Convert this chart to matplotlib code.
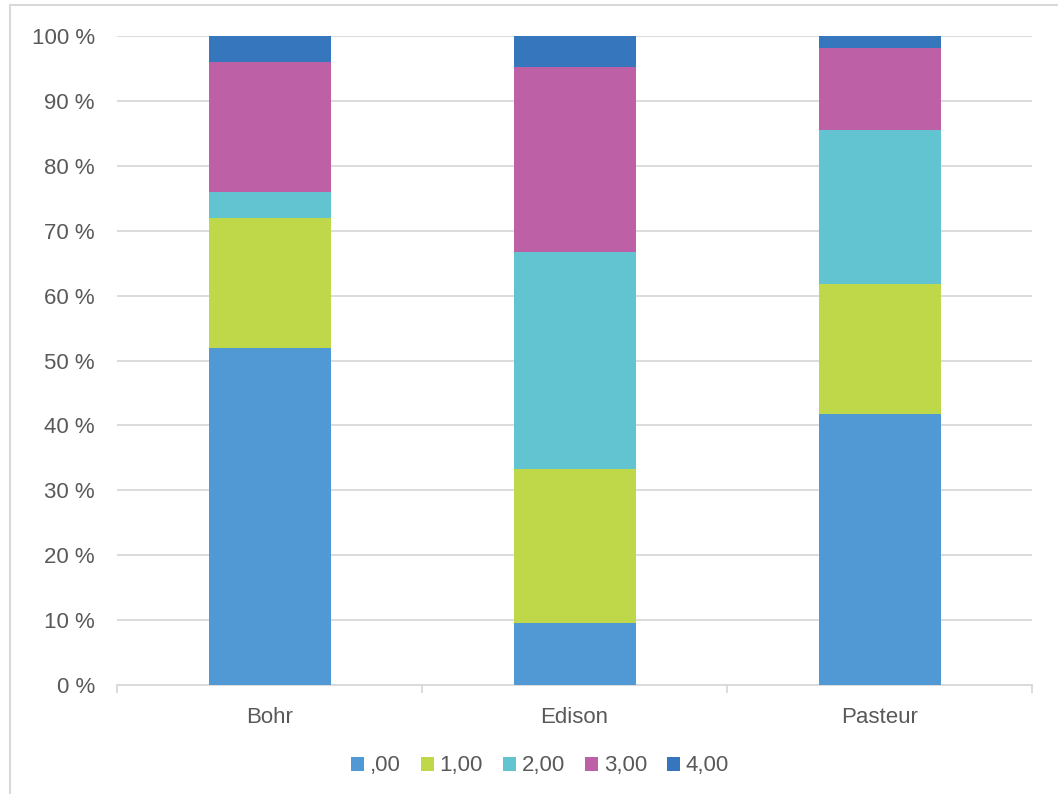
import matplotlib.pyplot as plt
from matplotlib.patches import Rectangle
import numpy as np

plt.rcParams['font.family'] = ['Liberation Sans', 'DejaVu Sans']

# respondent counts per answer code, one list per school
schools = ["Bohr", "Edison", "Pasteur"]
codes = [",00", "1,00", "2,00", "3,00", "4,00"]
counts_00 = [13, 2, 23]
counts_10 = [5, 5, 11]
counts_20 = [1, 7, 13]
counts_30 = [5, 6, 7]
counts_40 = [1, 1, 1]
colors = ["#5199D5", "#BFD849", "#62C3D1", "#BD60A5", "#3676BD"]

series = np.array([counts_00, counts_10, counts_20, counts_30, counts_40], dtype=float)
shares = series / series.sum(axis=0) * 100

text_col = "#595959"
grid_col = "#D9D9D9"

fig = plt.figure(figsize=(10.58, 7.94), dpi=100)
# outer chart frame
fig.patches.append(Rectangle((10 / 1058, -0.1), 1.2, 1.1 - 5 / 794, transform=fig.transFigure,
                             fill=False, edgecolor=grid_col, linewidth=1.5))
ax = fig.add_axes([117 / 1058, 1 - 685 / 794, 915 / 1058, 649 / 794])

x = np.arange(len(schools))
bottom = np.zeros(len(schools))
for i in range(len(codes)):
    ax.bar(x, shares[i], width=0.4, bottom=bottom, color=colors[i], label=codes[i], zorder=3)
    bottom += shares[i]

ax.set_xlim(-0.5, 2.5)
ax.set_ylim(0, 100)
ax.set_yticks(np.arange(0, 101, 10))
ax.set_yticklabels([f"{v} %" for v in range(0, 101, 10)])
ax.yaxis.grid(True, color=grid_col, linewidth=1.3, zorder=0)
ax.set_xticks(x)
ax.set_xticklabels(schools)
ax.set_xticks([-0.5, 0.5, 1.5, 2.5], minor=True)
ax.tick_params(axis='x', which='major', length=0, pad=16, labelsize=16, labelcolor=text_col)
ax.tick_params(axis='x', which='minor', length=6, color=grid_col, width=1.3)
ax.tick_params(axis='y', length=0, pad=16, labelsize=16, labelcolor=text_col)
for s in ["top", "right", "left"]:
    ax.spines[s].set_visible(False)
ax.spines["bottom"].set_color(grid_col)
ax.spines["bottom"].set_linewidth(1.3)

fig.legend(loc="center", bbox_to_anchor=(540 / 1058, 1 - 766 / 794), ncol=5, frameon=False,
           fontsize=16, labelcolor=text_col, handlelength=0.6, handleheight=0.6,
           handletextpad=0.25, columnspacing=0.9)

fig.savefig("out.png", dpi=100)
